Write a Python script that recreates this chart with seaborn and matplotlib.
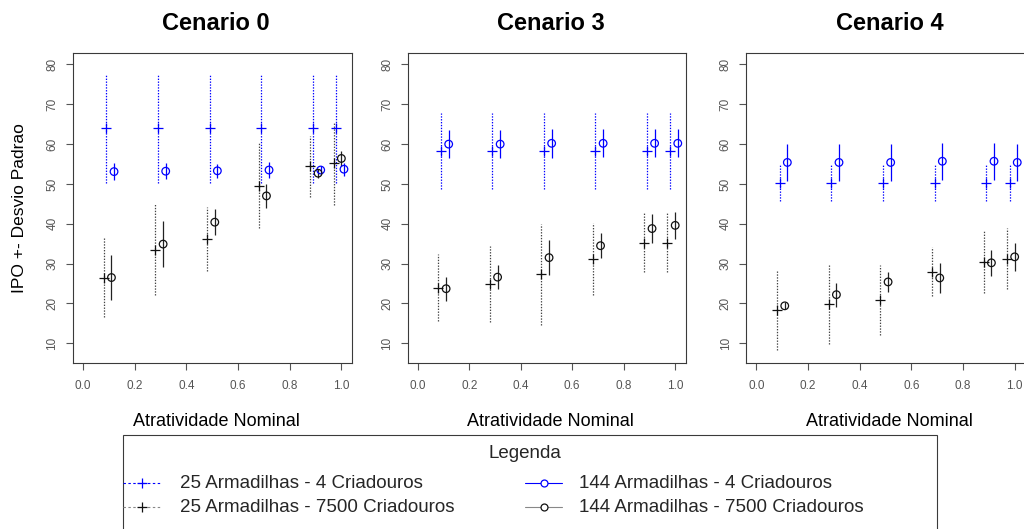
import matplotlib
matplotlib.use("Agg")
import matplotlib.pyplot as plt
from matplotlib.lines import Line2D
from matplotlib.patches import Rectangle
import seaborn as sns
import pandas as pd
import numpy as np

# ---------------- data ----------------
cenarios = ["Cenario 0", "Cenario 3", "Cenario 4"]
atratividade = [0.1, 0.3, 0.5, 0.7, 0.9, 0.99]
series = [
    "25 Armadilhas - 4 Criadouros",
    "25 Armadilhas - 7500 Criadouros",
    "144 Armadilhas - 4 Criadouros",
    "144 Armadilhas - 7500 Criadouros",
]

# Cenario 0: mean IPO and standard deviation
c0_25_4 = [64.0, 64.0, 64.0, 64.0, 64.0, 64.0]
c0_25_4_dp = [13.7, 13.7, 13.7, 13.7, 13.7, 13.7]
c0_25_7500 = [26.5, 33.5, 36.1, 49.6, 54.4, 55.2]
c0_25_7500_dp = [10.0, 11.5, 8.0, 10.7, 7.7, 10.4]
c0_144_4 = [53.1, 53.2, 53.3, 53.5, 53.5, 53.7]
c0_144_4_dp = [2.1, 2.0, 1.8, 2.0, 1.0, 1.6]
c0_144_7500 = [26.5, 34.9, 40.4, 47.0, 52.7, 56.4]
c0_144_7500_dp = [5.7, 5.7, 3.3, 3.1, 1.1, 1.8]

# Cenario 3
c3_25_4 = [58.3, 58.3, 58.3, 58.3, 58.3, 58.3]
c3_25_4_dp = [9.6, 9.6, 9.6, 9.6, 9.6, 9.6]
c3_25_7500 = [24.0, 24.9, 27.3, 31.1, 35.3, 35.3]
c3_25_7500_dp = [8.4, 9.6, 12.6, 9.0, 7.3, 7.3]
c3_144_4 = [60.0, 60.0, 60.2, 60.2, 60.2, 60.2]
c3_144_4_dp = [3.5, 3.5, 3.6, 3.5, 3.5, 3.5]
c3_144_7500 = [23.7, 26.6, 31.5, 34.5, 38.8, 39.6]
c3_144_7500_dp = [3.0, 3.0, 4.4, 3.1, 3.6, 3.4]

# Cenario 4
c4_25_4 = [50.3, 50.3, 50.3, 50.3, 50.3, 50.3]
c4_25_4_dp = [4.6, 4.6, 4.6, 4.6, 4.6, 4.6]
c4_25_7500 = [18.3, 19.9, 20.8, 28.0, 30.5, 31.2]
c4_25_7500_dp = [9.9, 10.0, 8.8, 6.2, 8.0, 7.7]
c4_144_4 = [55.4, 55.4, 55.4, 55.7, 55.7, 55.4]
c4_144_4_dp = [4.6, 4.6, 4.6, 4.6, 4.6, 4.6]
c4_144_7500 = [19.4, 22.2, 25.4, 26.4, 30.2, 31.7]
c4_144_7500_dp = [0.9, 3.0, 2.6, 3.7, 3.3, 3.6]

medias = {
    "Cenario 0": [c0_25_4, c0_25_7500, c0_144_4, c0_144_7500],
    "Cenario 3": [c3_25_4, c3_25_7500, c3_144_4, c3_144_7500],
    "Cenario 4": [c4_25_4, c4_25_7500, c4_144_4, c4_144_7500],
}
desvios = {
    "Cenario 0": [c0_25_4_dp, c0_25_7500_dp, c0_144_4_dp, c0_144_7500_dp],
    "Cenario 3": [c3_25_4_dp, c3_25_7500_dp, c3_144_4_dp, c3_144_7500_dp],
    "Cenario 4": [c4_25_4_dp, c4_25_7500_dp, c4_144_4_dp, c4_144_7500_dp],
}

rows = []
for cen in cenarios:
    for s, m, d in zip(series, medias[cen], desvios[cen]):
        for x, yv, dv in zip(atratividade, m, d):
            rows.append({"cenario": cen, "serie": s, "atrat": x, "ipo": yv, "dp": dv})
df = pd.DataFrame(rows)

# ---------------- styles ----------------
BLUE = "#0000ff"
DOTS = (0, (1.1, 1.2))
estilo = {
    series[0]: dict(dx=-0.01, marker="+", color=BLUE, bar=BLUE, ls=DOTS, s=48),
    series[1]: dict(dx=-0.02, marker="+", color="#111111", bar="#444444", ls=DOTS, s=48),
    series[2]: dict(dx=0.02, marker="o", color=BLUE, bar=BLUE, ls="-", s=30),
    series[3]: dict(dx=0.01, marker="o", color="#111111", bar="#222222", ls="-", s=30),
}

sns.set_theme(style="ticks")
plt.rcParams["font.family"] = ["Liberation Sans", "DejaVu Sans"]

W, H = 1024, 529
fig = plt.figure(figsize=(W / 100, H / 100), dpi=100)

def fx(px):
    return px / W

def fy(py):
    return 1 - py / H

top, bottom = 53.0, 362.7
caixas = [(72.7, 351.7), (407.5, 685.5), (746.0, 1025.0)]

for cen, (l, r) in zip(cenarios, caixas):
    ax = fig.add_axes([fx(l), fy(bottom), fx(r - l), (bottom - top) / H])
    sub = df[df["cenario"] == cen]
    for s in series:
        st = estilo[s]
        d = sub[sub["serie"] == s].copy()
        d["xpos"] = d["atrat"] + st["dx"]
        ax.vlines(d["xpos"], d["ipo"] - d["dp"], d["ipo"] + d["dp"],
                  colors=st["bar"], linestyles=[st["ls"]], linewidth=0.9, zorder=2)
        if st["marker"] == "o":
            sns.scatterplot(data=d, x="xpos", y="ipo", ax=ax, marker="o", s=st["s"],
                            facecolor="none", edgecolor=st["color"], linewidth=0.9,
                            legend=False, zorder=3)
        else:
            sns.scatterplot(data=d, x="xpos", y="ipo", ax=ax, marker="+", s=st["s"],
                            color=st["color"], linewidth=0.9, legend=False, zorder=3)
    ax.set_xlim(-0.04, 1.04)
    ax.set_ylim(5.12, 82.88)
    ax.set_xticks([0.0, 0.2, 0.4, 0.6, 0.8, 1.0])
    ax.set_xticklabels(["0.0", "0.2", "0.4", "0.6", "0.8", "1.0"])
    ax.set_yticks([10, 20, 30, 40, 50, 60, 70, 80])
    ax.set_yticklabels(["10", "20", "30", "40", "50", "60", "70", "80"])
    ax.set_xlabel("")
    ax.set_ylabel("")
    ax.tick_params(axis="both", direction="out", length=5.2, width=0.8,
                   color="#555555", labelcolor="#555555", labelsize=8.5)
    ax.tick_params(axis="x", pad=7)
    ax.tick_params(axis="y", pad=5, labelrotation=90)
    for lab in ax.get_yticklabels():
        lab.set_va("center")
    for sp in ax.spines.values():
        sp.set_visible(True)
        sp.set_color("#3a3a3a")
        sp.set_linewidth(0.8)
    cx = (l + r) / 2 + 4
    fig.text(fx(cx), fy(23), cen, ha="center", va="center",
             fontsize=17, fontweight="bold", color="black")
    fig.text(fx(cx), fy(422), "Atratividade Nominal", ha="center", va="center",
             fontsize=13, color="black")

fig.text(fx(20), fy(208), "IPO +- Desvio Padrao", rotation=90,
         ha="center", va="center", fontsize=12.5, color="black")

# ---------------- legend box ----------------
fig.patches.append(Rectangle((fx(123), fy(560)), fx(937 - 123), (560 - 435) / H,
                             transform=fig.transFigure, facecolor="none",
                             edgecolor="#3a3a3a", linewidth=0.8, clip_on=False))
fig.text(fx(524.5), fy(453), "Legenda", ha="center", va="center", fontsize=13.5)

entradas = [
    (series[0], 123, 160, 483),
    (series[1], 123, 160, 507),
    (series[2], 525, 562, 483),
    (series[3], 525, 562, 507),
]
for s, x0, x1, yy in entradas:
    st = estilo[s]
    linha = "#888888" if st["color"] != BLUE else BLUE
    ls_leg = (0, (2.2, 2.2)) if st["marker"] == "+" else "-"
    fig.add_artist(Line2D([fx(x0), fx(x1)], [fy(yy), fy(yy)], transform=fig.transFigure,
                          color=linha, linestyle=ls_leg, linewidth=0.8))
    if st["marker"] == "o":
        fig.add_artist(Line2D([fx((x0 + x1) / 2)], [fy(yy)], transform=fig.transFigure,
                              marker="o", markersize=5, markerfacecolor="white",
                              markeredgecolor=st["color"], markeredgewidth=0.9, linestyle="none"))
    else:
        fig.add_artist(Line2D([fx((x0 + x1) / 2)], [fy(yy)], transform=fig.transFigure,
                              marker="+", markersize=7.5, markeredgecolor=st["color"],
                              markeredgewidth=0.9, linestyle="none"))
    tx = 180 if x0 < 300 else 579
    fig.text(fx(tx), fy(yy), s, ha="left", va="center", fontsize=13.5)

fig.savefig("out.png", dpi=100, facecolor="white")
